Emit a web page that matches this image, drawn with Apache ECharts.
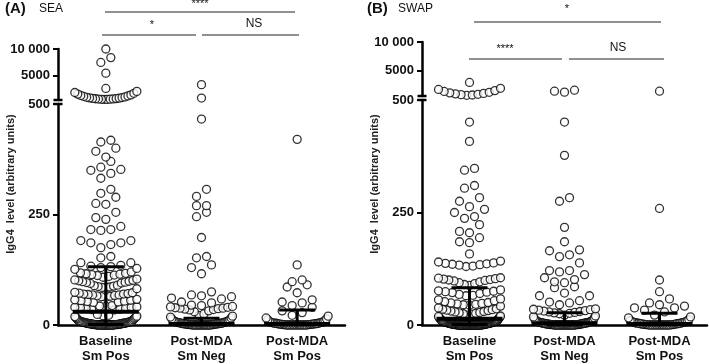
<!DOCTYPE html>
<html>
<head>
<meta charset="utf-8">
<script src="https://cdn.jsdelivr.net/npm/echarts@6/dist/echarts.min.js"></script>
<style>
html,body{margin:0;padding:0;background:#fff}
#main{width:709px;height:364px}
</style>
</head>
<body>
<div id="main"></div>
<script>
// categories
var groups = ['Baseline\nSm Pos', 'Post-MDA\nSm Neg', 'Post-MDA\nSm Pos'];

// SEA (panel A)
var seaBaseline = [10000, 8400, 7500, 5500, 2650,
    600, 610, 630, 650, 680, 700, 730, 760, 800, 850, 900, 950, 1000, 1080, 1160, 1250, 1350, 1450, 1600, 1750, 1900, 2100,
    418, 414, 400, 393, 380, 370, 357, 352, 350, 343, 332, 307, 298, 289, 275, 273, 255, 243, 239, 223, 216, 216, 214,
    191, 191, 186, 186, 182, 175, 155, 152, 141, 141,
    135, 133, 132, 130, 128, 126, 120, 118, 117, 116, 115, 114, 113, 112, 110, 108,
    104, 102, 101, 100, 99, 98, 97, 96, 95, 94, 90, 89, 88, 87, 86, 85, 84, 82,
    74, 73, 72, 71, 70, 70, 69, 68, 68, 67, 66, 65, 64, 63, 58, 57, 56, 55, 54, 53, 52, 51,
    44, 43, 42, 41, 40, 40, 39, 38, 37, 36, 35, 34, 24, 22, 21, 20, 19, 18, 17, 16, 15, 14, 13, 12,
    10, 9, 9, 8, 8, 8, 7, 7, 7, 6, 6, 6, 6, 5, 5, 5, 5, 4, 4, 4, 4, 4, 3, 3, 3, 3, 3,
    2, 2, 2, 2, 2, 2, 1, 1, 1, 1, 1, 1, 1,
    0, 0, 0, 0, 0, 0, 0, 0, 0, 0, 0, 0, 0, 0, 0, 0, 0, 0, 0, 0];
var seaPostNeg = [3360, 860,
    466, 307, 291, 270, 270, 255, 245, 198, 155, 152, 136, 130, 116,
    75, 68, 66, 64, 61, 59, 52, 50, 45, 44, 42, 41, 40, 39, 38, 38, 37, 36, 35, 34, 32, 30,
    25, 22, 20, 18, 16, 14, 12, 10, 9, 8, 8, 7, 7, 6, 6, 5, 5, 5, 4, 4, 4, 3, 3, 3, 3,
    2, 2, 2, 2, 1, 1, 1, 1, 1, 0, 0, 0, 0, 0, 0, 0, 0, 0, 0, 0, 0, 0, 0, 0];
var seaPostPos = [420, 136, 102, 98, 91, 86, 73, 57, 52, 50, 44, 40, 32, 28, 22, 20, 16, 14, 12, 10,
    8, 7, 6, 6, 5, 5, 4, 4, 4, 3, 3, 3, 2, 2, 2, 2, 1, 1, 1, 1,
    0, 0, 0, 0, 0, 0, 0, 0, 0, 0, 0, 0, 0, 0];
var seaMedian = [30, 2, 2];
var seaQ1 = [1, 0, 0];
var seaQ3 = [132, 15, 34];

// SWAP (panel B)
var swapBaseline = [2880,
    620, 680, 740, 800, 880, 960, 1050, 1150, 1300, 1450, 1650, 1850,
    451, 408, 348, 344, 310, 304, 283, 275, 263, 257, 250, 241, 237, 223, 208, 205, 194, 185, 183, 158,
    142, 140, 138, 137, 136, 135, 134, 133, 131, 130,
    105, 104, 103, 102, 101, 100, 99, 98, 96, 94, 92, 90, 88,
    78, 76, 75, 74, 73, 72, 70, 68, 66, 65,
    58, 56, 54, 52, 50, 49, 48, 47, 46, 45, 44, 42,
    38, 36, 35, 34, 33, 32, 31, 30, 29, 28, 27, 26, 25, 24, 22,
    20, 19, 18, 17, 16, 15, 14, 13, 12, 11, 10, 10, 9, 9, 9, 8, 8, 8, 8, 7, 7, 7, 7,
    6, 6, 6, 6, 6, 5, 5, 5, 5, 5, 4, 4, 4, 4, 4, 4, 3, 3, 3, 3, 3, 3,
    2, 2, 2, 2, 2, 2, 2, 1, 1, 1, 1, 1, 1, 1, 1,
    0, 0, 0, 0, 0, 0, 0, 0, 0, 0, 0, 0, 0, 0, 0, 0, 0, 0, 0, 0,
    0, 0, 0, 0, 0, 0, 0, 0, 0, 0, 0, 0, 0, 0, 0, 0, 0, 0, 0, 0];
var swapPostNeg = [1520, 1350, 1180,
    451, 377, 283, 275, 217, 185, 167, 165, 156, 152, 138, 121, 121, 118, 112, 105, 101, 96, 94, 85, 83, 71,
    65, 65, 54, 51, 49, 45, 36, 35, 34, 33, 32, 31, 30, 29, 28, 27, 26, 25, 22,
    20, 18, 16, 14, 12, 10, 9, 8, 8, 7, 7, 6, 6, 6, 5, 5, 5, 4, 4, 4, 4, 3, 3, 3, 3,
    2, 2, 2, 2, 2, 1, 1, 1, 1, 1, 1,
    0, 0, 0, 0, 0, 0, 0, 0, 0, 0, 0, 0, 0, 0, 0, 0, 0, 0, 0, 0];
var swapPostPos = [1350, 259, 100, 74, 58, 49, 45, 42, 38, 38, 33, 29, 22, 18, 16, 12, 10, 9, 8, 7, 6, 6,
    5, 5, 4, 4, 4, 3, 3, 3, 2, 2, 2, 1, 1, 1, 1,
    0, 0, 0, 0, 0, 0, 0, 0, 0, 0, 0, 0, 0, 0];
var swapMedian = [14, 4, 2];
var swapQ1 = [1, 0, 0];
var swapQ3 = [83, 27, 26];

var BREAK_AT = 500;
var TOP_MAX = 10000;
var ROW_PX = 9, DOT_GAP = 10, MAX_W = 62;
var MED_W = 66, IQR_W = 36;

// panel geometry
var panelA = {left: 58, upTop: 49, upH: 51, lowTop: 104, lowH: 221, width: 287};
var panelB = {left: 422, upTop: 42, upH: 54, lowTop: 100, lowH: 225, width: 285};

// beeswarm: group points in rows, spread each row around the category centre
function swarm(values, gi, unitsPerPx, pxPerX) {
    var v = values.slice().sort(function (a, b) { return a - b; });
    var rows = [], cur = null;
    v.forEach(function (val) {
        if (!cur || val - cur.start > ROW_PX * unitsPerPx) {
            cur = {start: val, items: []};
            rows.push(cur);
        }
        cur.items.push(val);
    });
    var out = [];
    rows.forEach(function (r) {
        var n = r.items.length;
        var s = n > 1 ? Math.min(DOT_GAP, MAX_W / (n - 1)) : 0;
        var slots = [];
        for (var i = 0; i < n; i++) slots.push((i - (n - 1) / 2) * s);
        slots.sort(function (a, b) { return Math.abs(a) - Math.abs(b) || a - b; });
        r.items.forEach(function (val, i) {
            out.push([gi + 1 + slots[i] / pxPerX, val]);
        });
    });
    return out;
}

function buildPanel(p, lists, med, q1, q3, gridBase, xBase, yBase) {
    var pxPerX = p.width / 3;
    var up = [], low = [];
    lists.forEach(function (vals, gi) {
        var hi = vals.filter(function (x) { return x > BREAK_AT; });
        var lo = vals.filter(function (x) { return x <= BREAK_AT; });
        up = up.concat(swarm(hi, gi, (TOP_MAX - BREAK_AT) / p.upH, pxPerX));
        low = low.concat(swarm(lo, gi, BREAK_AT / p.lowH, pxPerX));
    });
    var stats = [];
    for (var i = 0; i < 3; i++) stats.push([i + 1, q1[i], med[i], q3[i]]);
    var dot = {
        type: 'scatter', symbol: 'circle', symbolSize: 8, clip: false, silent: true,
        itemStyle: {color: '#fff', borderColor: '#000', borderWidth: 1.3}
    };
    return {
        grid: [
            {left: p.left, top: p.upTop, width: p.width, height: p.upH},
            {left: p.left, top: p.lowTop, width: p.width, height: p.lowH}
        ],
        xAxis: [
            {type: 'value', gridIndex: gridBase, position: 'bottom', min: 0.5, max: 3.5, show: false},
            {type: 'value', gridIndex: gridBase + 1, position: 'bottom', min: 0.5, max: 3.5, show: false},
            {type: 'category', gridIndex: gridBase + 1, position: 'bottom', data: groups, boundaryGap: true,
                axisLine: {lineStyle: {color: '#000', width: 2.5}},
                axisTick: {show: false},
                axisLabel: {color: '#111', fontWeight: 'bold', fontSize: 13, lineHeight: 15, margin: 9,
                    fontFamily: 'Liberation Sans, Arial, sans-serif'}}
        ],
        yAxis: [
            {type: 'value', gridIndex: gridBase, position: 'left', min: BREAK_AT, max: TOP_MAX, splitLine: {show: false},
                axisLine: {show: true, lineStyle: {color: '#000', width: 2.5}, symbol: ['rect', 'none'], symbolSize: [9, 2.5]},
                axisTick: {show: true, length: 5, lineStyle: {width: 2, color: '#000'}, customValues: [5000, 10000]},
                axisLabel: {customValues: [5000, 10000], color: '#111', fontWeight: 'bold', fontSize: 13, margin: 8,
                    fontFamily: 'Liberation Sans, Arial, sans-serif',
                    formatter: function (v) { return v === 10000 ? '10 000' : String(v); }}},
            {type: 'value', gridIndex: gridBase + 1, position: 'left', min: 0, max: BREAK_AT, interval: 250, splitLine: {show: false},
                axisLine: {show: true, lineStyle: {color: '#000', width: 2.5}, symbol: ['none', 'rect'], symbolSize: [9, 2.5]},
                axisTick: {show: true, length: 5, lineStyle: {width: 2, color: '#000'}},
                axisLabel: {color: '#111', fontWeight: 'bold', fontSize: 13, margin: 8,
                    fontFamily: 'Liberation Sans, Arial, sans-serif'}}
        ],
        series: [
            Object.assign({xAxisIndex: xBase, yAxisIndex: yBase, data: up}, dot),
            Object.assign({xAxisIndex: xBase + 1, yAxisIndex: yBase + 1, data: low}, dot),
            {
                type: 'custom', xAxisIndex: xBase + 1, yAxisIndex: yBase + 1, z: 5, silent: true,
                clip: false, data: stats,
                renderItem: function (params, api) {
                    var x = api.value(0);
                    var a = api.coord([x, api.value(1)]);
                    var m = api.coord([x, api.value(2)]);
                    var b = api.coord([x, api.value(3)]);
                    return {type: 'group', children: [
                        {type: 'line', shape: {x1: a[0], y1: a[1], x2: b[0], y2: b[1]}, style: {stroke: '#000', lineWidth: 3}},
                        {type: 'line', shape: {x1: a[0] - IQR_W / 2, y1: a[1], x2: a[0] + IQR_W / 2, y2: a[1]}, style: {stroke: '#000', lineWidth: 3}},
                        {type: 'line', shape: {x1: b[0] - IQR_W / 2, y1: b[1], x2: b[0] + IQR_W / 2, y2: b[1]}, style: {stroke: '#000', lineWidth: 3}},
                        {type: 'line', shape: {x1: m[0] - MED_W / 2, y1: m[1], x2: m[0] + MED_W / 2, y2: m[1]}, style: {stroke: '#000', lineWidth: 4}}
                    ]};
                }
            }
        ]
    };
}

var A = buildPanel(panelA, [seaBaseline, seaPostNeg, seaPostPos], seaMedian, seaQ1, seaQ3, 0, 0, 0);
var B = buildPanel(panelB, [swapBaseline, swapPostNeg, swapPostPos], swapMedian, swapQ1, swapQ3, 2, 3, 2);

var font = 'Liberation Sans, Arial, sans-serif';
function txt(x, y, s, f, align) {
    return {type: 'text', x: x, y: y, silent: true,
        style: {text: s, font: f, fill: '#111', textAlign: align || 'left', textVerticalAlign: 'middle'}};
}
function ln(x1, y, x2) {
    return {type: 'line', silent: true, shape: {x1: x1, y1: y, x2: x2, y2: y}, style: {stroke: '#222', lineWidth: 1.2}};
}

var chart = echarts.init(document.getElementById('main'));
chart.setOption({
    animation: false,
    backgroundColor: '#fff',
    grid: A.grid.concat(B.grid),
    xAxis: A.xAxis.concat(B.xAxis),
    yAxis: A.yAxis.concat(B.yAxis),
    series: A.series.concat(B.series),
    graphic: [
        txt(5, 9, '(A)', 'bold 15px ' + font),
        txt(39, 9, 'SEA', '12px ' + font),
        txt(367, 9, '(B)', 'bold 15px ' + font),
        txt(398, 9, 'SWAP', '12px ' + font),
        {type: 'text', x: 11, y: 184, rotation: Math.PI / 2, silent: true,
            style: {text: 'IgG4  level (arbitrary units)', font: 'bold 11px ' + font, fill: '#222',
                textAlign: 'center', textVerticalAlign: 'middle'}},
        {type: 'text', x: 375, y: 184, rotation: Math.PI / 2, silent: true,
            style: {text: 'IgG4  level (arbitrary units)', font: 'bold 11px ' + font, fill: '#222',
                textAlign: 'center', textVerticalAlign: 'middle'}},
        // significance brackets
        txt(200, 4, '****', '11px ' + font, 'center'),
        ln(105, 12, 295),
        txt(152, 25, '*', '11px ' + font, 'center'),
        ln(102, 35, 196),
        txt(254, 24, 'NS', '12px ' + font, 'center'),
        ln(202, 35, 299),
        txt(567, 9, '*', '11px ' + font, 'center'),
        ln(474, 22, 661),
        txt(505, 49, '****', '11px ' + font, 'center'),
        ln(469, 59, 562),
        txt(618, 48, 'NS', '12px ' + font, 'center'),
        ln(569, 59, 664)
    ]
});
</script>
</body>
</html>
